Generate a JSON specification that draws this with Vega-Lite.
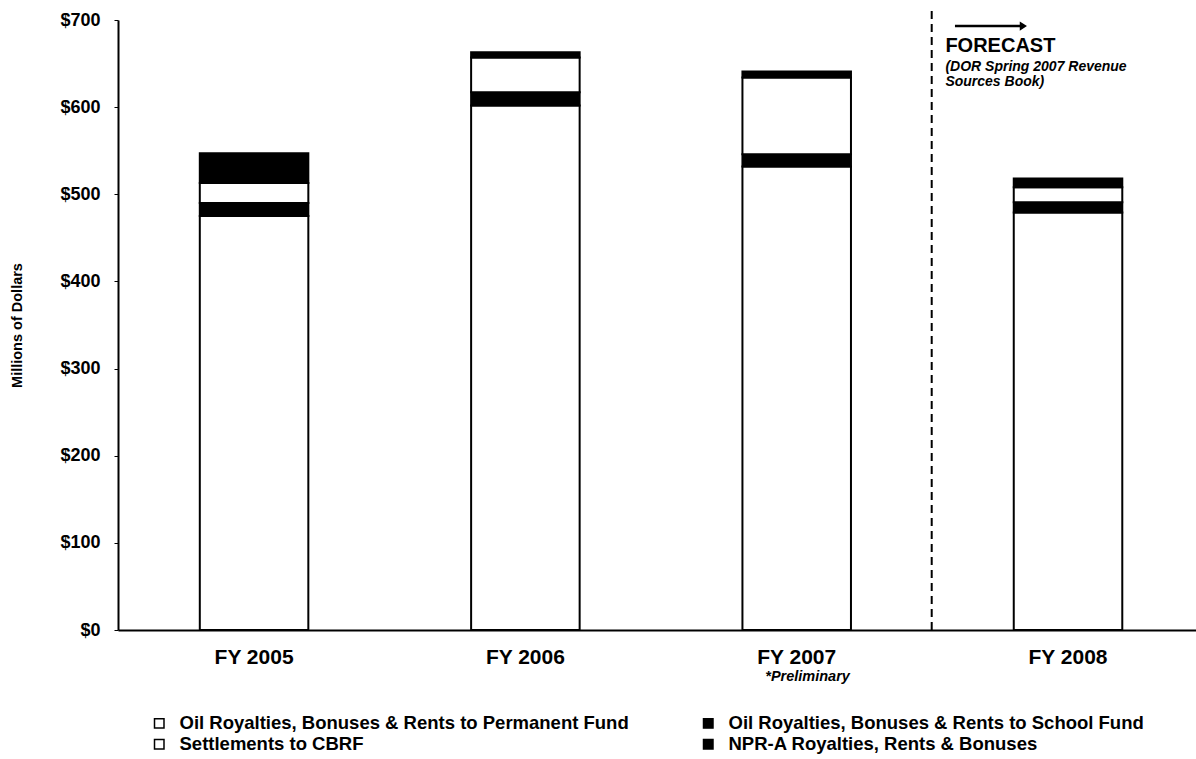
{
  "$schema": "https://vega.github.io/schema/vega-lite/v6.json",
  "width": 1078,
  "height": 610,
  "autosize": {"type": "none"},
  "padding": {"left": 118, "top": 20, "right": 0, "bottom": 129},
  "background": "white",
  "config": {"view": {"stroke": null}, "font": "Liberation Sans"},
  "datasets": {
    "revenue": [
      {"year": "FY 2005", "source": "Oil Royalties, Bonuses & Rents to Permanent Fund", "rank": 1, "amount": 475},
      {"year": "FY 2005", "source": "Oil Royalties, Bonuses & Rents to School Fund", "rank": 2, "amount": 15},
      {"year": "FY 2005", "source": "Settlements to CBRF", "rank": 3, "amount": 23},
      {"year": "FY 2005", "source": "NPR-A Royalties, Rents & Bonuses", "rank": 4, "amount": 34},
      {"year": "FY 2006", "source": "Oil Royalties, Bonuses & Rents to Permanent Fund", "rank": 1, "amount": 602},
      {"year": "FY 2006", "source": "Oil Royalties, Bonuses & Rents to School Fund", "rank": 2, "amount": 15},
      {"year": "FY 2006", "source": "Settlements to CBRF", "rank": 3, "amount": 40},
      {"year": "FY 2006", "source": "NPR-A Royalties, Rents & Bonuses", "rank": 4, "amount": 6},
      {"year": "FY 2007", "source": "Oil Royalties, Bonuses & Rents to Permanent Fund", "rank": 1, "amount": 532},
      {"year": "FY 2007", "source": "Oil Royalties, Bonuses & Rents to School Fund", "rank": 2, "amount": 14},
      {"year": "FY 2007", "source": "Settlements to CBRF", "rank": 3, "amount": 88},
      {"year": "FY 2007", "source": "NPR-A Royalties, Rents & Bonuses", "rank": 4, "amount": 7},
      {"year": "FY 2008", "source": "Oil Royalties, Bonuses & Rents to Permanent Fund", "rank": 1, "amount": 479},
      {"year": "FY 2008", "source": "Oil Royalties, Bonuses & Rents to School Fund", "rank": 2, "amount": 12},
      {"year": "FY 2008", "source": "Settlements to CBRF", "rank": 3, "amount": 17},
      {"year": "FY 2008", "source": "NPR-A Royalties, Rents & Bonuses", "rank": 4, "amount": 10}
    ]
  },
  "layer": [
    {
      "data": {"name": "revenue"},
      "mark": {"type": "bar", "stroke": "black", "strokeWidth": 2},
      "encoding": {
        "x": {
          "field": "year", "type": "nominal",
          "scale": {"type": "band", "domain": ["FY 2005", "FY 2006", "FY 2007", "FY 2008"], "paddingInner": 0.6, "paddingOuter": 0.2866, "align": 0.526},
          "axis": {"title": null, "labelAngle": 0, "labelFontSize": 21, "labelFontWeight": "bold", "labelColor": "black", "ticks": false, "labelPadding": 16, "domainColor": "black", "domainWidth": 2}
        },
        "y": {
          "field": "amount", "type": "quantitative", "stack": "zero",
          "scale": {"domain": [0, 700], "nice": false},
          "axis": {"title": "Millions of Dollars", "values": [0, 100, 200, 300, 400, 500, 600, 700], "labelExpr": "'$' + datum.value", "labelFontSize": 18, "labelFontWeight": "bold", "labelColor": "black", "grid": false, "tickColor": "black", "tickSize": 4, "labelPadding": 14, "domainColor": "black", "domainWidth": 2, "titleFontSize": 14.5, "titleFontWeight": "bold", "titleColor": "black", "titlePadding": 35}
        },
        "color": {
          "field": "source", "type": "nominal",
          "scale": {"domain": ["Oil Royalties, Bonuses & Rents to Permanent Fund", "Settlements to CBRF", "Oil Royalties, Bonuses & Rents to School Fund", "NPR-A Royalties, Rents & Bonuses"], "range": ["white", "white", "black", "black"]},
          "legend": {"title": null, "orient": "none", "legendX": 32, "legendY": 694, "columns": 2, "columnPadding": 70, "rowPadding": 2, "symbolType": "square", "symbolSize": 90, "symbolStrokeColor": "black", "symbolStrokeWidth": 1.5, "labelFontSize": 18.5, "labelFontWeight": "bold", "labelColor": "black", "labelLimit": 0, "labelOffset": 11}
        },
        "order": {"field": "rank", "type": "quantitative"}
      }
    },
    {
      "mark": {"type": "rule", "color": "black", "strokeWidth": 1.5},
      "encoding": {"y": {"datum": 700}}
    },
    {
      "data": {"values": [{"year": "FY 2007"}]},
      "mark": {"type": "rule", "color": "black", "strokeWidth": 2, "strokeDash": [8, 5]},
      "encoding": {
        "x": {"field": "year", "type": "nominal", "bandPosition": 1.744},
        "y": {"datum": 0},
        "y2": {"datum": 711}
      }
    },
    {
      "data": {"values": [{"year": "FY 2007"}]},
      "mark": {"type": "point", "filled": true, "color": "black", "opacity": 1, "size": 5184, "shape": "M-1,-0.035L0.8,-0.035L0.8,-0.13L1,0L0.8,0.13L0.8,0.035L-1,0.035Z"},
      "encoding": {
        "x": {"field": "year", "type": "nominal", "bandPosition": 2.29},
        "y": {"datum": 693}
      }
    },
    {
      "data": {"values": [{"year": "FY 2007", "label": "FORECAST"}]},
      "mark": {"type": "text", "align": "left", "baseline": "middle", "fontSize": 20, "fontWeight": "bold", "color": "black"},
      "encoding": {
        "x": {"field": "year", "type": "nominal", "bandPosition": 1.87},
        "y": {"datum": 670},
        "text": {"field": "label"}
      }
    },
    {
      "data": {"values": [{"year": "FY 2007", "label": "(DOR Spring 2007 Revenue", "line": 646}, {"year": "FY 2007", "label": "Sources Book)", "line": 629}]},
      "mark": {"type": "text", "align": "left", "baseline": "middle", "fontSize": 14, "fontWeight": "bold", "fontStyle": "italic", "color": "black"},
      "encoding": {
        "x": {"field": "year", "type": "nominal", "bandPosition": 1.87},
        "y": {"field": "line", "type": "quantitative"},
        "text": {"field": "label"}
      }
    },
    {
      "data": {"values": [{"year": "FY 2007", "label": "*Preliminary"}]},
      "mark": {"type": "text", "align": "center", "baseline": "middle", "fontSize": 14.5, "fontWeight": "bold", "fontStyle": "italic", "color": "black", "dy": 47},
      "encoding": {
        "x": {"field": "year", "type": "nominal", "bandPosition": 0.6},
        "y": {"datum": 0},
        "text": {"field": "label"}
      }
    }
  ]
}
